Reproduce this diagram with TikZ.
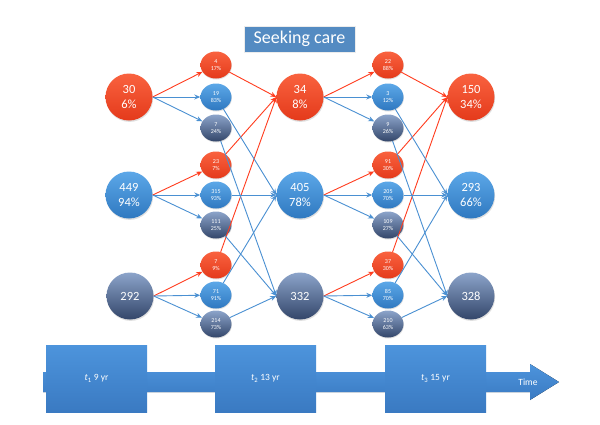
\documentclass[tikz,border=0pt]{standalone}
\usepackage{fontspec}
\setmainfont{Carlito}
\usetikzlibrary{positioning,arrows.meta,shapes.geometric,shadows}

\definecolor{redtop}{HTML}{F9623F}
\definecolor{redbot}{HTML}{E43A1B}
\definecolor{bluetop}{HTML}{5CA8E8}
\definecolor{bluebot}{HTML}{2F78C0}
\definecolor{greytop}{HTML}{8CA4CA}
\definecolor{greybot}{HTML}{33466A}
\definecolor{redline}{HTML}{FF3C1E}
\definecolor{blueline}{HTML}{4A90D2}
\definecolor{boxtop}{HTML}{4D94DC}
\definecolor{boxbot}{HTML}{3A7AC2}

\begin{document}
\begin{tikzpicture}[
			x=1pt,y=-1pt,
			every node/.style={
					text=white,
					align=center,
					inner sep=0pt
				},
			big/.style={circle,minimum size=47pt,
					font=\fontsize{12.5}{15.5}\selectfont,
					drop shadow={opacity=0.25,shadow xshift=0.6pt,shadow yshift=-1.4pt}},
			small/.style={ellipse,minimum width=31pt,minimum height=27pt,
					font=\fontsize{6}{7.5}\selectfont,
					drop shadow={opacity=0.25,shadow xshift=0.4pt,shadow yshift=-1pt}},
			redball/.style={top color=redtop,bottom color=redbot},
			blueball/.style={top color=bluetop,bottom color=bluebot},
			greyball/.style={top color=greytop,bottom color=greybot},
			redarrow/.style={draw=redline,line width=0.9pt,-{Stealth[length=6pt,width=5pt]}},
			bluearrow/.style={draw=blueline,line width=0.9pt,-{Stealth[length=6pt,width=5pt]}},
			timebox/.style={rectangle,minimum width=101pt,minimum height=67pt,
					top color=boxtop,bottom color=boxbot,font=\fontsize{9.5}{11}\selectfont}
		]

		\useasboundingbox[fill=white] (0,0) rectangle (600,424);

		% title
		\node[rectangle,fill=boxtop!85!black!90,draw=white!85!gray,line width=0.8pt,
			minimum width=111pt,minimum height=26pt,font=\fontsize{18}{20}\selectfont,
			drop shadow={opacity=0.2,shadow xshift=0.8pt,shadow yshift=-1pt}]
		(title) at (299.5,39) {Seeking care};

		% time line
		\fill[top color=boxtop,bottom color=boxbot]
		(43,372) -- (530,372) -- (530,364) -- (559,382) -- (530,400) -- (530,392) -- (43,392) -- cycle;

		\node[timebox] (t1) at (96.5,378.5) {\textit{t}\textsubscript{1} 9 yr};
		\node[timebox] (t2) at (265.5,378.5) {\textit{t}\textsubscript{2} 13 yr};
		\node[timebox] (t3) at (435.5,378.5) {\textit{t}\textsubscript{3} 15 yr};
		\node[font=\fontsize{9.5}{11}\selectfont] (time) at (528,382) {Time};

		% first wave
		\node[big,redball] (a1) at (129,97) {30\\6\%};
		\node[big,blueball] (a2) at (129,195) {449\\94\%};
		\node[big,greyball] (a3) at (130,296) {292};

		\node[small,redball] (b1) at (216,65) {4\\17\%};
		\node[small,blueball] (b2) at (216,97) {19\\83\%};
		\node[small,greyball] (b3) at (216,128) {7\\24\%};
		\node[small,redball] (b4) at (216,165) {23\\7\%};
		\node[small,blueball] (b5) at (216,195) {315\\93\%};
		\node[small,greyball] (b6) at (216,225) {111\\25\%};
		\node[small,redball] (b7) at (216,265) {7\\9\%};
		\node[small,blueball] (b8) at (216,295) {71\\91\%};
		\node[small,greyball] (b9) at (216,324) {214\\73\%};

		% second wave
		\node[big,redball] (c1) at (300,97) {34\\8\%};
		\node[big,blueball] (c2) at (300,195) {405\\78\%};
		\node[big,greyball] (c3) at (300,296) {332};

		\node[small,redball] (d1) at (388,65) {22\\88\%};
		\node[small,blueball] (d2) at (388,97) {3\\12\%};
		\node[small,greyball] (d3) at (388,128) {9\\26\%};
		\node[small,redball] (d4) at (388,165) {91\\30\%};
		\node[small,blueball] (d5) at (388,195) {205\\70\%};
		\node[small,greyball] (d6) at (388,225) {109\\27\%};
		\node[small,redball] (d7) at (388,265) {37\\30\%};
		\node[small,blueball] (d8) at (388,295) {85\\70\%};
		\node[small,greyball] (d9) at (388,324) {210\\63\%};

		% third wave
		\node[big,redball] (e1) at (471,97) {150\\34\%};
		\node[big,blueball] (e2) at (471,195) {293\\66\%};
		\node[big,greyball] (e3) at (471,296) {328};

		% splitting
		\draw[redarrow] (a1.east) -- (b1);
		\draw[bluearrow] (a1.east) -- (b2);
		\draw[bluearrow] (a1.east) -- (b3);
		\draw[redarrow] (a2.east) -- (b4);
		\draw[bluearrow] (a2.east) -- (b5);
		\draw[bluearrow] (a2.east) -- (b6);
		\draw[redarrow] (a3.east) -- (b7);
		\draw[bluearrow] (a3.east) -- (b8);
		\draw[bluearrow] (a3.east) -- (b9);

		\draw[redarrow] (c1.east) -- (d1);
		\draw[bluearrow] (c1.east) -- (d2);
		\draw[bluearrow] (c1.east) -- (d3);
		\draw[redarrow] (c2.east) -- (d4);
		\draw[bluearrow] (c2.east) -- (d5);
		\draw[bluearrow] (c2.east) -- (d6);
		\draw[redarrow] (c3.east) -- (d7);
		\draw[bluearrow] (c3.east) -- (d8);
		\draw[bluearrow] (c3.east) -- (d9);

		% merging
		\draw[redarrow] (b1) -- (c1.west);
		\draw[redarrow] (b4) -- (c1.west);
		\draw[redarrow] (b7) -- (c1.west);
		\draw[bluearrow] (b2) -- (c2.west);
		\draw[bluearrow] (b5) -- (c2.west);
		\draw[bluearrow] (b8) -- (c2.west);
		\draw[bluearrow] (b3) -- (c3.west);
		\draw[bluearrow] (b6) -- (c3.west);
		\draw[bluearrow] (b9) -- (c3.west);

		\draw[redarrow] (d1) -- (e1.west);
		\draw[redarrow] (d4) -- (e1.west);
		\draw[redarrow] (d7) -- (e1.west);
		\draw[bluearrow] (d2) -- (e2.west);
		\draw[bluearrow] (d5) -- (e2.west);
		\draw[bluearrow] (d8) -- (e2.west);
		\draw[bluearrow] (d3) -- (e3.west);
		\draw[bluearrow] (d6) -- (e3.west);
		\draw[bluearrow] (d9) -- (e3.west);

	\end{tikzpicture}
\end{document}
